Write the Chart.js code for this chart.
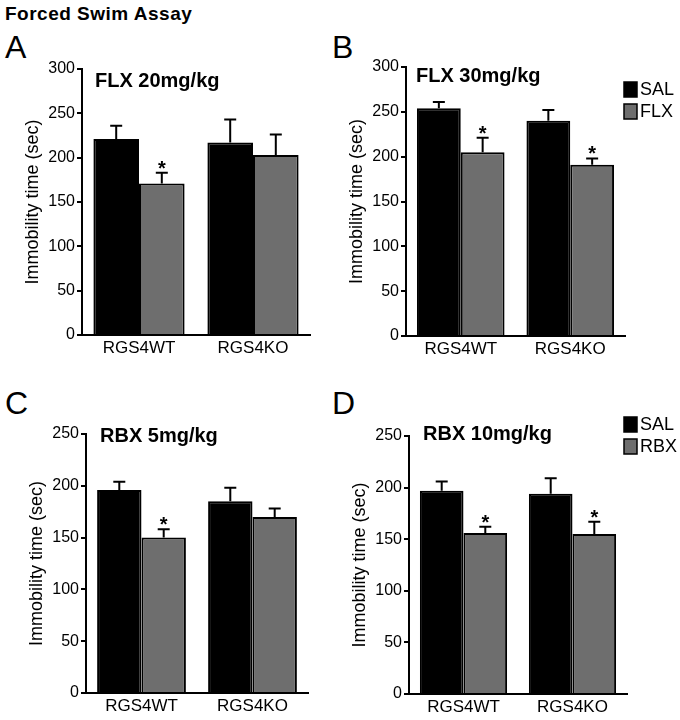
<!DOCTYPE html>
<html>
<head>
<meta charset="utf-8">
<script src="https://cdn.jsdelivr.net/npm/chart.js@4.4.0/dist/chart.umd.min.js"></script>
<style>
  body { margin: 0; background: #fff; font-family: "Liberation Sans", Arial, sans-serif; }
  #page { position: relative; width: 680px; height: 720px; overflow: hidden; }
  canvas { position: absolute; }
  .head { position: absolute; left: 5px; top: 3px; font-size: 19px; font-weight: bold; letter-spacing: 0.5px; }
  .letter { position: absolute; font-size: 32px; line-height: 1; }
</style>
</head>
<body>
<div id="page">
  <div class="head">Forced Swim Assay</div>
  <div class="letter" style="left:5px;top:31px">A</div>
  <div class="letter" style="left:332px;top:31px">B</div>
  <div class="letter" style="left:5px;top:387px">C</div>
  <div class="letter" style="left:332px;top:387px">D</div>
  <canvas id="chartA" width="340" height="360" style="left:0;top:0"></canvas>
  <canvas id="chartB" width="340" height="360" style="left:340px;top:0"></canvas>
  <canvas id="chartC" width="340" height="360" style="left:0;top:360px"></canvas>
  <canvas id="chartD" width="340" height="360" style="left:340px;top:360px"></canvas>
</div>
<script>
// genotypes on the x axis
const genotypes = ['RGS4WT', 'RGS4KO'];

// A: fluoxetine 20 mg/kg
const salA = [221, 217];
const salErrA = [15, 26];
const flx20 = [171, 203];
const flx20Err = [12, 23];
const starsA = [true, false];

// B: fluoxetine 30 mg/kg
const salB = [254, 240];
const salErrB = [7, 12];
const flx30 = [205, 191];
const flx30Err = [16, 7];
const starsB = [true, true];

// C: reboxetine 5 mg/kg
const salC = [196, 185];
const salErrC = [8, 13];
const rbx5 = [150, 170];
const rbx5Err = [8, 8];
const starsC = [true, false];

// D: reboxetine 10 mg/kg
const salD = [197, 194];
const salErrD = [9, 15];
const rbx10 = [156, 155];
const rbx10Err = [6, 12];
const starsD = [true, true];

const FONT = '"Liberation Sans", Arial, sans-serif';
const GRAY = '#6e6e6e';

// upper SEM bars + significance stars
const errorBars = {
  id: 'errorBars',
  afterDatasetsDraw(chart) {
    const ctx = chart.ctx;
    const y = chart.scales.y;
    chart.data.datasets.forEach((ds, i) => {
      const meta = chart.getDatasetMeta(i);
      meta.data.forEach((bar, j) => {
        const top = y.getPixelForValue(ds.data[j] + ds.errors[j]);
        ctx.save();
        ctx.strokeStyle = '#000';
        ctx.lineWidth = 2;
        ctx.beginPath();
        ctx.moveTo(bar.x, bar.y);
        ctx.lineTo(bar.x, top);
        ctx.moveTo(bar.x - 6, top);
        ctx.lineTo(bar.x + 6, top);
        ctx.stroke();
        if (ds.stars && ds.stars[j]) {
          ctx.fillStyle = '#000';
          ctx.font = 'bold 20px ' + FONT;
          ctx.textAlign = 'center';
          ctx.textBaseline = 'alphabetic';
          ctx.fillText('*', bar.x, top + 2);
        }
        ctx.restore();
      });
    });
  }
};

// panel heading and small box legend
const panelText = {
  id: 'panelText',
  afterDraw(chart, args, opts) {
    const ctx = chart.ctx;
    ctx.save();
    ctx.fillStyle = '#000';
    ctx.font = 'bold 20px ' + FONT;
    ctx.textBaseline = 'alphabetic';
    ctx.textAlign = 'left';
    ctx.fillText(opts.title, opts.titleX, opts.titleY);
    if (opts.legend) {
      chart.data.datasets.forEach((ds, i) => {
        const yy = opts.legendY + i * 22;
        ctx.fillStyle = ds.backgroundColor;
        ctx.fillRect(opts.legendX, yy, 13, 15);
        ctx.strokeStyle = '#000';
        ctx.lineWidth = 1.5;
        ctx.strokeRect(opts.legendX, yy, 13, 15);
        ctx.fillStyle = '#000';
        ctx.font = '18px ' + FONT;
        ctx.textBaseline = 'middle';
        ctx.fillText(ds.label, opts.legendX + 16, yy + 8);
      });
    }
    ctx.restore();
  }
};

function makePanel(id, sal, salErr, drug, drugErr, stars, drugName, yMax, pad, text) {
  return new Chart(document.getElementById(id), {
    type: 'bar',
    data: {
      labels: genotypes,
      datasets: [{
        label: 'SAL',
        data: sal,
        errors: salErr,
        backgroundColor: '#000',
        borderColor: '#000',
        borderWidth: 2
      }, {
        label: drugName,
        data: drug,
        errors: drugErr,
        stars: stars,
        backgroundColor: GRAY,
        borderColor: '#000',
        borderWidth: 2
      }]
    },
    options: {
      responsive: false,
      animation: false,
      layout: { padding: pad },
      datasets: { bar: { categoryPercentage: 0.8, barPercentage: 1.0 } },
      scales: {
        x: {
          grid: { display: false, drawTicks: false },
          border: { color: '#000', width: 2 },
          ticks: { color: '#000', font: { family: FONT, size: 17 }, padding: 3 },
          afterFit: s => { s.height = 24; }
        },
        y: {
          min: 0,
          max: yMax,
          ticks: { stepSize: 50, color: '#000', font: { family: FONT, size: 16 }, padding: 2 },
          grid: { drawOnChartArea: false, color: '#000', lineWidth: 2, tickLength: 5 },
          border: { color: '#000', width: 2 },
          title: {
            display: true,
            text: 'Immobility time (sec)',
            color: '#000',
            font: { family: FONT, size: 18 },
            padding: { top: 2, bottom: 0 }
          },
          afterFit: s => { s.width = 62; }
        }
      },
      plugins: {
        legend: { display: false },
        tooltip: { enabled: false },
        panelText: text
      }
    },
    plugins: [errorBars, panelText]
  });
}

makePanel('chartA', salA, salErrA, flx20, flx20Err, starsA, 'FLX', 300,
  { left: 20, right: 30, top: 69, bottom: 1 },
  { title: 'FLX 20mg/kg', titleX: 95, titleY: 87, legend: false });

makePanel('chartB', salB, salErrB, flx30, flx30Err, starsB, 'FLX', 300,
  { left: 4, right: 55, top: 67, bottom: 0 },
  { title: 'FLX 30mg/kg', titleX: 76, titleY: 82, legend: true, legendX: 284, legendY: 82 });

makePanel('chartC', salC, salErrC, rbx5, rbx5Err, starsC, 'RBX', 250,
  { left: 24, right: 32, top: 74, bottom: 3 },
  { title: 'RBX 5mg/kg', titleX: 100, titleY: 82, legend: false });

makePanel('chartD', salD, salErrD, rbx10, rbx10Err, starsD, 'RBX', 250,
  { left: 7, right: 53, top: 76, bottom: 2 },
  { title: 'RBX 10mg/kg', titleX: 83, titleY: 80, legend: true, legendX: 284, legendY: 57 });
</script>
</body>
</html>
